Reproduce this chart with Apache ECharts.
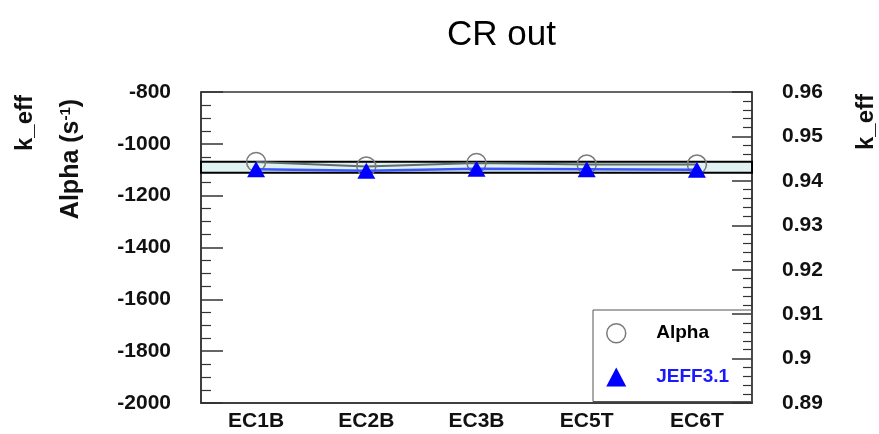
<!DOCTYPE html>
<html>
<head>
<meta charset="utf-8">
<script src="https://cdn.jsdelivr.net/npm/echarts@6/dist/echarts.min.js"></script>
<style>
  html, body { margin: 0; padding: 0; background: #fff; }
  #chart { width: 879px; height: 434px; }
</style>
</head>
<body>
<div id="chart"></div>
<script>
// Cases on the horizontal axis
const categories = ['EC1B', 'EC2B', 'EC3B', 'EC5T', 'EC6T'];
// Measured alpha (s^-1), left axis
const alphaValues = [-1070, -1087, -1074, -1080, -1080];
// JEFF3.1 k_eff, right axis
const jeffValues = [0.9426, 0.9423, 0.9427, 0.9426, 0.9425];
// Reference k_eff band (lower / upper bound)
const bandLow = 0.9418;
const bandHigh = 0.9443;
// Axis tick labels
const alphaTicks = [-2000, -1800, -1600, -1400, -1200, -1000, -800];
const keffTicks = [0.89, 0.9, 0.91, 0.92, 0.93, 0.94, 0.95, 0.96];

const FONT = 'Liberation Sans, Arial, sans-serif';
const chart = echarts.init(document.getElementById('chart'), null, { renderer: 'canvas' });

const option = {
  animation: false,
  backgroundColor: '#fff',
  title: {
    text: 'CR out',
    left: 442,
    top: 13,
    textStyle: { fontFamily: FONT, fontSize: 35, fontWeight: 'normal', color: '#000' }
  },
  grid: {
    left: 201, right: 127, top: 92, bottom: 31,
    show: true, borderColor: '#333', borderWidth: 1.5, backgroundColor: 'transparent'
  },
  legend: {
    orient: 'vertical',
    left: 593,
    top: 310,
    padding: [13, 23, 15, 13],
    itemWidth: 20,
    itemHeight: 19,
    itemGap: 24,
    borderColor: '#555',
    borderWidth: 1,
    backgroundColor: 'transparent',
    selectedMode: false,
    textStyle: { fontFamily: FONT, fontSize: 19, fontWeight: 'bold', padding: [0, 0, 0, 25] },
    data: [
      { name: 'Alpha', icon: 'circle',
        itemStyle: { color: 'rgba(0,0,0,0)', borderColor: '#7a7a7a', borderWidth: 1.5 },
        textStyle: { color: '#000' } },
      { name: 'JEFF3.1', icon: 'triangle',
        itemStyle: { color: '#0000ff' },
        textStyle: { color: '#1a1aff' } }
    ]
  },
  xAxis: {
    type: 'category',
    data: categories,
    boundaryGap: true,
    axisLine: { lineStyle: { color: '#333', width: 1.5 } },
    axisTick: { inside: true, length: 21, interval: (i) => i !== 2, lineStyle: { color: '#333', width: 1.2 } },
    axisLabel: { fontFamily: FONT, fontSize: 21, fontWeight: 'bold', color: '#111', margin: 8 },
    splitLine: { show: false }
  },
  yAxis: [
    {
      type: 'value',
      position: 'left',
      min: alphaTicks[0],
      max: alphaTicks[alphaTicks.length - 1],
      interval: 200,
      axisLine: { show: true, lineStyle: { color: '#333', width: 1.5 } },
      axisTick: { show: true, inside: true, length: 22, lineStyle: { color: '#333', width: 1.5 } },
      minorTick: { show: true, splitNumber: 4, length: 10, lineStyle: { color: '#333', width: 1.2 } },
      axisLabel: {
        fontFamily: FONT, fontSize: 21, fontWeight: 'bold', color: '#111', margin: 30,
        formatter: (v) => String(v)
      },
      splitLine: { show: false }
    },
    {
      type: 'value',
      position: 'right',
      min: keffTicks[0],
      max: keffTicks[keffTicks.length - 1],
      interval: 0.01,
      axisLine: { show: true, lineStyle: { color: '#333', width: 1.5 } },
      axisTick: { show: true, inside: true, length: 20, lineStyle: { color: '#333', width: 1.5 } },
      minorTick: { show: true, splitNumber: 5, length: 9, lineStyle: { color: '#333', width: 1.2 } },
      axisLabel: {
        fontFamily: FONT, fontSize: 21, fontWeight: 'bold', color: '#111', margin: 30,
        formatter: (v) => String(+v.toFixed(2))
      },
      splitLine: { show: false }
    }
  ],
  graphic: [
    { type: 'text', x: 25, y: 123, rotation: Math.PI / 2,
      style: { text: 'k_eff', fontFamily: FONT, fontSize: 24, fontWeight: 'bold', fill: '#111',
               align: 'center', verticalAlign: 'middle' } },
    { type: 'text', x: 71, y: 159, rotation: Math.PI / 2,
      style: {
        text: '{n|Alpha (s}{sup|-1}{n|)}',
        align: 'center', verticalAlign: 'middle',
        rich: {
          n: { fontFamily: FONT, fontSize: 25, fontWeight: 'bold', fill: '#111' },
          sup: { fontFamily: FONT, fontSize: 15, fontWeight: 'bold', fill: '#111', verticalAlign: 'top' }
        }
      } },
    { type: 'text', x: 866, y: 122, rotation: Math.PI / 2,
      style: { text: 'k_eff', fontFamily: FONT, fontSize: 24, fontWeight: 'bold', fill: '#111',
               align: 'center', verticalAlign: 'middle' } }
  ],
  series: [
    {
      name: 'band',
      type: 'line',
      yAxisIndex: 1,
      data: [],
      z: 1,
      silent: true,
      markArea: {
        silent: true,
        itemStyle: { color: '#dff1f0', borderColor: '#000', borderWidth: 2 },
        data: [[{ yAxis: bandHigh }, { yAxis: bandLow }]]
      }
    },
    {
      name: 'JEFF3.1',
      type: 'line',
      yAxisIndex: 1,
      data: jeffValues,
      z: 3,
      symbol: 'triangle',
      symbolSize: [18, 16],
      lineStyle: { color: '#3a55ff', width: 2.5 },
      itemStyle: { color: '#0000ff' }
    },
    {
      name: 'Alpha',
      type: 'line',
      yAxisIndex: 0,
      data: alphaValues,
      z: 2,
      symbol: 'circle',
      symbolSize: 19,
      lineStyle: { color: '#5f6d6d', width: 2 },
      itemStyle: { color: 'rgba(0,0,0,0)', borderColor: '#7a7a7a', borderWidth: 1.5 }
    }
  ]
};

chart.setOption(option);
</script>
</body>
</html>
